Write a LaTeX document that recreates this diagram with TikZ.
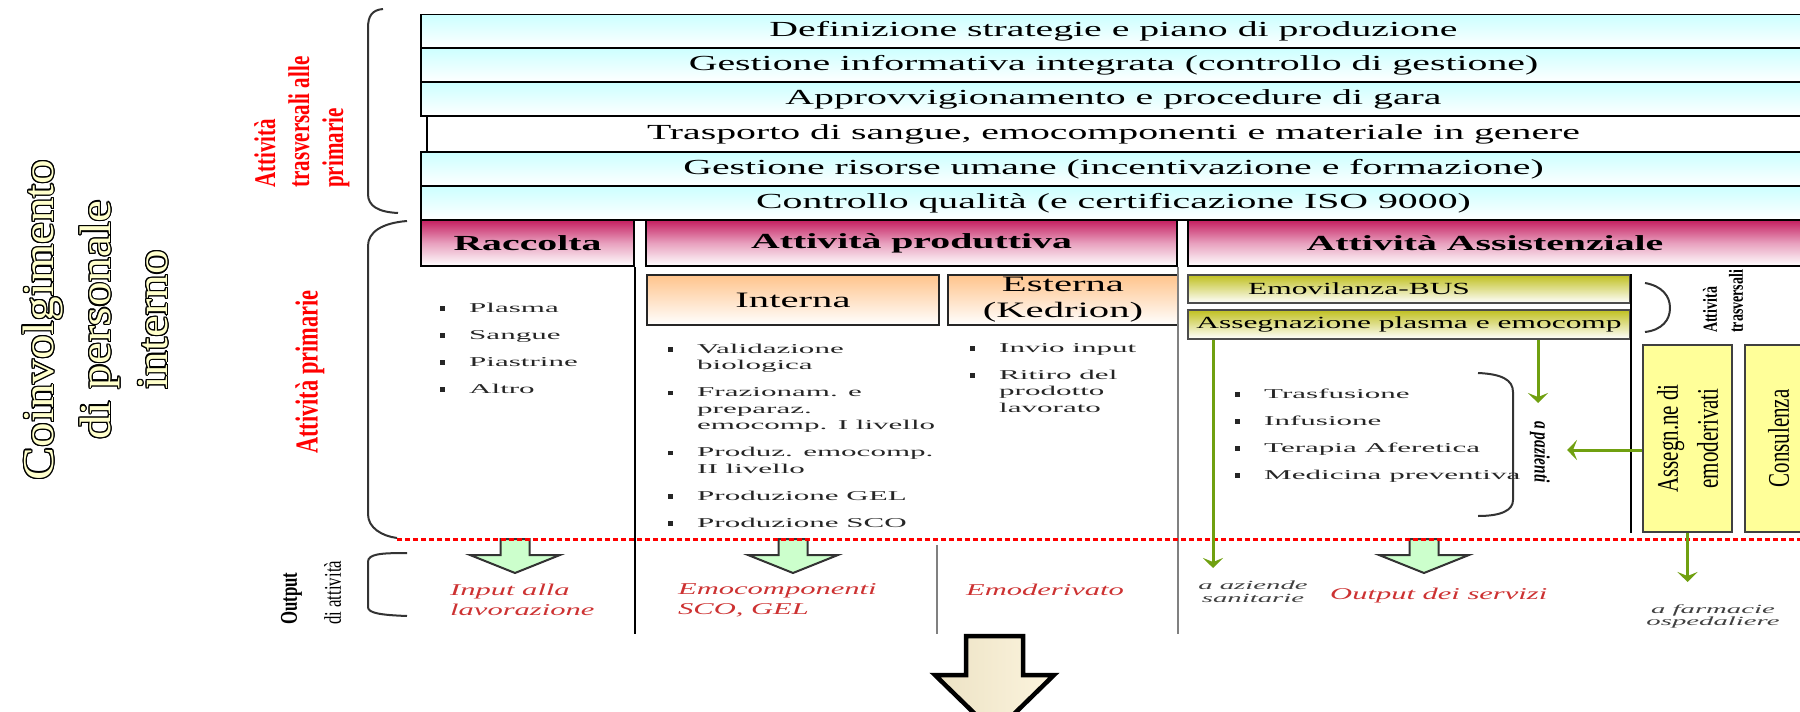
\documentclass[tikz,border=0pt]{standalone}
\usepackage{fontspec}
\usepackage{contour}
\usetikzlibrary{arrows.meta}
\setmainfont{Liberation Serif}
\newfontfamily\widefont{Liberation Serif}[FakeStretch=1.85]
\newfontfamily\xwidefont{Liberation Serif}[FakeStretch=2.3]
\newfontfamily\narrowfont{Liberation Serif}[FakeStretch=0.7]
\newfontfamily\coinfont{Liberation Serif}[FakeStretch=1.12]
\newcommand{\fsz}[2]{\fontsize{#1}{#2}\selectfont}
\newcommand{\blt}{\makebox[29pt][l]{\raisebox{1.5pt}{\rule{4.5pt}{4.5pt}}}}
\newcommand{\igap}{10.5pt}
\contourlength{1.2pt}

\definecolor{barcyan}{RGB}{204,255,255}
\definecolor{headmag}{RGB}{196,30,96}
\definecolor{headpink}{RGB}{232,160,190}
\definecolor{suborange}{RGB}{255,196,140}
\definecolor{subolive}{RGB}{192,192,32}
\definecolor{boxyellow}{RGB}{255,255,153}
\definecolor{outgreen}{RGB}{204,255,204}
\definecolor{linkgreen}{RGB}{112,160,16}
\definecolor{outred}{RGB}{205,50,50}
\definecolor{labred}{RGB}{255,0,0}
\definecolor{beigeL}{RGB}{236,226,196}
\definecolor{beigeR}{RGB}{252,244,222}
\definecolor{coinyellow}{RGB}{255,255,204}

\tikzset{
  bar/.style={draw=black, line width=1.5pt, top color=barcyan, bottom color=white,
    minimum height=34pt, inner sep=0pt, font=\widefont\fsz{21.5}{24}},
  head/.style={draw=black, line width=2pt, top color=headmag, bottom color=white, middle color=headpink,
    minimum height=46pt, inner sep=0pt, font=\widefont\bfseries\fsz{21.5}{24}},
  sub/.style={draw=black!85, line width=2pt, top color=suborange, bottom color=white,
    minimum height=50pt, inner sep=0pt, align=center, font=\widefont\fsz{22}{26}},
  emo/.style={draw=black!70, line width=2pt, top color=subolive, bottom color=white,
    minimum width=442pt, inner sep=0pt, font=\widefont\fsz{17}{20}},
  ybox/.style={draw=black!75, line width=2pt, fill=boxyellow, rotate=90, minimum width=187pt,
    inner sep=0pt, align=center, font=\narrowfont\fsz{30}{40}},
  lst/.style={anchor=north west, inner sep=0pt, text=black!85, font=\xwidefont\fsz{13.5}{16.5}},
  outtxt/.style={anchor=west, align=left, inner sep=0pt, text=outred, font=\widefont\itshape\fsz{16.5}{20}},
  outsmall/.style={align=center, inner sep=0pt, text=black!75, font=\xwidefont\itshape\fsz{12.5}{13}},
  gline/.style={draw=linkgreen, line width=3pt, -{Stealth[length=10pt,width=20pt,inset=4pt]}},
  outarr/.style={draw=black!80, line width=2pt, fill=outgreen, line join=miter},
  brk/.style={draw=black!80, line width=2pt},
  sepline/.style={line width=2pt},
}

\begin{document}
\begin{tikzpicture}[x=1pt, y=-1pt]
\useasboundingbox (0,0) rectangle (1800,712);
\clip (0,0) rectangle (1800,712);

\coordinate (BOT) at (0,634); % bottom of the columns
\coordinate (DL) at (397,539); % dotted line, left end
\coordinate (DR) at (1800,539); % dotted line, right end

% transversal activities
\node[bar, minimum width=1385pt] (defz) at (1113.5,31.5) {Definizione strategie e piano di produzione};
\node[bar, minimum width=1385pt] (gest) at (1113.5,65) {Gestione informativa integrata (controllo di gestione)};
\node[bar, minimum width=1385pt] (appr) at (1113.5,99) {Approvvigionamento e procedure di gara};
\node[bar, top color=white, minimum width=1383pt, minimum height=35pt] (tras) at (1118.5,134) {Trasporto di sangue, emocomponenti e materiale in genere\rule{10pt}{0pt}};
\node[bar, minimum width=1385pt] (risu) at (1113.5,169) {Gestione risorse umane (incentivazione e formazione)};
\node[bar, minimum width=1385pt] (qual) at (1113.5,203) {Controllo qualità (e certificazione ISO 9000)};

% primary activities
\node[head, minimum width=213pt] (racc) at (527.5,243) {Raccolta};
\node[head, minimum width=531pt] (prod) at (911.5,243) {Attività produttiva};
\node[head, minimum width=618pt] (assi) at (1497,243) {Attività Assistenziale\rule{24pt}{0pt}};

\node[sub, minimum width=292pt] (intr) at (793,300) {Interna};
\node[sub, minimum width=230pt] (estr) at (1063,300) {Esterna\\(Kedrion)};
\node[emo, minimum height=28pt] (emov) at (1409,289) {Emovilanza-BUS\rule{100pt}{0pt}};
\node[emo, minimum height=29pt] (asg) at (1409,324.5) {Assegnazione plasma e emocomp};

\node[ybox, minimum height=89pt] (asgd) at (1687.5,438.5) {Assegn.ne di\\emoderivati};
\node[ybox, minimum height=67pt] (cons) at (1778.5,438.5) {Consulenza};

% column separators
\draw[sepline] (racc.south east) -- (racc.south east |- BOT);
\draw[sepline, black!50] (prod.south east) -- (prod.south east |- BOT);
\coordinate (SEPT) at (937,545);
\draw[sepline, black!50] (SEPT) -- (SEPT |- BOT);
\draw[sepline] (emov.north east) -- (emov.north east |- asgd.west);

% lists
\node[lst] (lracc) at (440,300.5) {\begin{tabular}[t]{@{}l@{}l@{}}
\blt&Plasma\\[\igap] \blt&Sangue\\[\igap] \blt&Piastrine\\[\igap] \blt&Altro
\end{tabular}};
\node[lst] (lintr) at (668,341.5) {\begin{tabular}[t]{@{}l@{}l@{}}
\blt&Validazione\\ &biologica\\[\igap]
\blt&Frazionam. e\\ &preparaz.\\ &emocomp. I livello\\[\igap]
\blt&Produz. emocomp.\\ &II livello\\[\igap]
\blt&Produzione GEL\\[\igap] \blt&Produzione SCO
\end{tabular}};
\node[lst] (lestr) at (970,340.5) {\begin{tabular}[t]{@{}l@{}l@{}}
\blt&Invio input\\[\igap] \blt&Ritiro del\\ &prodotto\\ &lavorato
\end{tabular}};
\node[lst] (lassi) at (1235,386.5) {\begin{tabular}[t]{@{}l@{}l@{}}
\blt&Trasfusione\\[\igap] \blt&Infusione\\[\igap] \blt&Terapia Aferetica\\[\igap] \blt&Medicina preventiva
\end{tabular}};

% side labels
\node[rotate=90, align=center, text=coinyellow, font=\coinfont\fsz{44}{57}] (coin) at (96,320)
  {\contour{black}{Coinvolgimento}\\\contour{black}{di personale}\\\contour{black}{interno}};
\node[rotate=90, anchor=west, align=left, inner sep=0pt, text=labred, font=\narrowfont\bfseries\fsz{30}{34}] (trav) at (302,188) {Attività\\trasversali alle\\primarie};
\node[rotate=90, inner sep=0pt, text=labred, font=\narrowfont\bfseries\fsz{32}{36}] (prim) at (310,372) {Attività primarie};
\node[rotate=90, anchor=west, align=left, inner sep=0pt, font=\narrowfont\fsz{24}{44}] (outl) at (311,625) {\textbf{Output}\\di attività};
\node[rotate=90, anchor=west, align=left, inner sep=0pt, font=\narrowfont\bfseries\fsz{20}{26}] (trsv) at (1723,333) {Attività\\trasversali};
\node[rotate=-90, inner sep=0pt, font=\narrowfont\bfseries\itshape\fsz{22}{24}] (paz) at (1540,452) {a pazienti};

% brackets
\draw[brk] (383,9) .. controls (372,10) and (368,16) .. (368,28) -- (368,194) .. controls (368,206) and (378,212) .. (398,213);
\draw[brk] (407,221) .. controls (382,223) and (368,232) .. (368,246) -- (368,514) .. controls (368,528) and (382,536) .. (397,538);
\draw[brk] (407,553) .. controls (380,553) and (368,554) .. (368,562) -- (368,607) .. controls (368,613) and (380,615) .. (407,616);
\draw[brk] (1478,373) .. controls (1502,374) and (1513,380) .. (1513,392) -- (1513,500) .. controls (1513,510) and (1502,516) .. (1478,516);
\draw[brk] (1645,283) .. controls (1662,286) and (1670,296) .. (1670,308) .. controls (1670,320) and (1662,330) .. (1645,332);

% outputs
\foreach \ax in {515,793,1424}
  \draw[outarr] (\ax-14.5,539) -- (\ax-14.5,555) -- (\ax-45,555) -- (\ax,573) -- (\ax+45,555) -- (\ax+14.5,555) -- (\ax+14.5,539) -- cycle;
\draw[labred, line width=3pt, dash pattern=on 5pt off 3pt] (DL) -- (DR);

\node[outtxt] (oinp) at (450,600) {Input alla\\lavorazione};
\node[outtxt] (oemc) at (678,600) {Emocomponenti\\SCO, GEL};
\node[outtxt] (oemd) at (966,590) {Emoderivato};
\node[outtxt] (oser) at (1330,596) {Output dei servizi};
\node[outsmall] (oazi) at (1253,592) {a aziende\\sanitarie};
\node[outsmall, font=\xwidefont\itshape\fsz{12.5}{12}] (ofar) at (1713,616) {a farmacie\\ospedaliere};

% green links
\coordinate (ATIP) at (1538,403);
\coordinate (ZTIP) at (1213,568);
\coordinate (PTIP) at (1567,450);
\coordinate (FTIP) at (1687.5,582);
\draw[gline] (asg.south -| ATIP) -- (ATIP);
\draw[gline] (asg.south -| ZTIP) -- (ZTIP);
\draw[gline] (asgd.north) ++(0,11.5) -- (PTIP);
\draw[gline] (asgd.west) -- (FTIP);

% big arrow
\draw[line width=4.5pt, line join=miter, left color=beigeL, right color=beigeR] (966,636) -- (966,675) -- (935,675) -- (994.5,733) -- (1054,675) -- (1023,675) -- (1023,636) -- cycle;
\end{tikzpicture}
\end{document}
